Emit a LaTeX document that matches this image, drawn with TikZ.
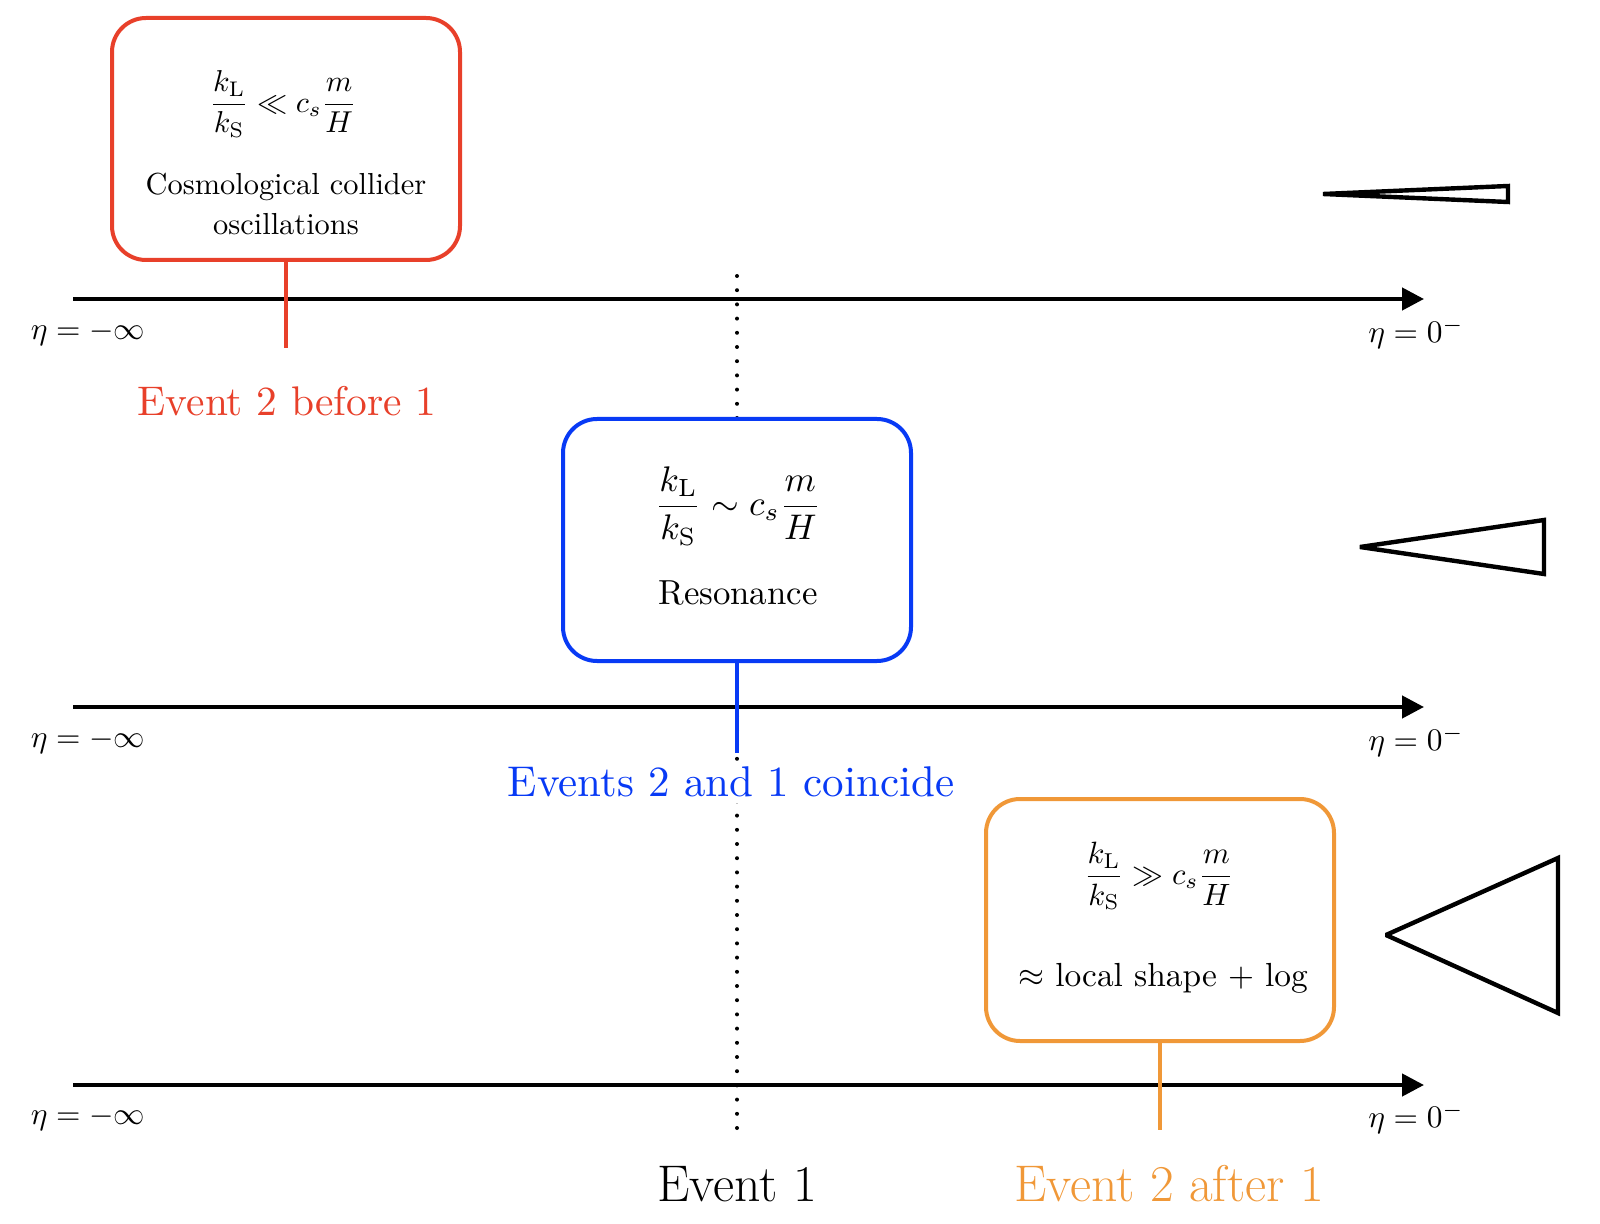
\RequirePackage{fix-cm}
\documentclass[tikz,border=0pt]{standalone}
\usepackage{amsmath}
\usetikzlibrary{arrows.meta}
\definecolor{cred}{RGB}{232,64,42}
\definecolor{cblue}{RGB}{8,58,245}
\definecolor{corange}{RGB}{240,152,56}
\newcommand{\SBX}[2]{\scalebox{#1}{#2}}
\begin{document}
\begin{tikzpicture}[x=0.5pt,y=-0.5pt,
  axis/.style={line width=2.2pt,-{Triangle[length=11pt,width=11pt]}},
  etalbl/.style={inner sep=0pt},
  evbox/.style={draw, rounded corners=17pt, line width=2pt, fill=white,
    minimum width=174pt, minimum height=121pt, inner sep=0pt},
  conn/.style={line width=2pt},
  evlbl/.style={fill=white, inner sep=3pt},
  biglbl/.style={font=\fontsize{25.8}{30}\selectfont, inner sep=3pt},
  tri/.style={line width=2.2pt, line join=miter, miter limit=2},
  dotline/.style={line width=2pt, line cap=round, dash pattern=on 0pt off 7.1pt}
]
\useasboundingbox (0,0) rectangle (1600,1224);

% event 1 dotted line
\coordinate (dtop) at (737,276);
\coordinate (dbot) at (737,1135);
\draw[dotline] (dtop) -- (dbot);

% axes
\coordinate (a1s) at (73,299); \coordinate (a1e) at (1424,299);
\coordinate (a2s) at (73,707); \coordinate (a2e) at (1424,707);
\coordinate (a3s) at (73,1085); \coordinate (a3e) at (1424,1085);
\draw[axis] (a1s) -- (a1e);
\draw[axis] (a2s) -- (a2e);
\draw[axis] (a3s) -- (a3e);

\node[etalbl] (l1a) at (88,333) {\SBX{1.57}{$\eta = -\infty$}};
\node[etalbl] (l1b) at (1416,333) {\SBX{1.57}{$\eta = 0^-$}};
\node[etalbl] (l2a) at (88,741) {\SBX{1.57}{$\eta = -\infty$}};
\node[etalbl] (l2b) at (1416,741) {\SBX{1.57}{$\eta = 0^-$}};
\node[etalbl] (l3a) at (88,1118) {\SBX{1.57}{$\eta = -\infty$}};
\node[etalbl] (l3b) at (1416,1118) {\SBX{1.57}{$\eta = 0^-$}};

% red box
\node[evbox, draw=cred] (rbox) at (286,139) {};
\coordinate (rend) at (286,348);
\draw[conn, cred] (rbox.south) -- (rend);
\node (rform) at (283,104)
  {\SBX{1.51}{$\displaystyle\frac{k_{\mathrm{L}}}{k_{\mathrm{S}}} \ll c_s\frac{m}{H}$}};
\node (rtext) at (286,207)
  {\SBX{1.52}{\begin{tabular}{@{}c@{}}Cosmological collider\\[1.2pt]oscillations\end{tabular}}};
\node[evlbl, text=cred] (rlbl) at (287,401) {\SBX{2.07}{Event 2 before 1}};

% blue box
\node[evbox, draw=cblue] (bbox) at (737,540) {};
\coordinate (bend) at (737,753);
\draw[conn, cblue] (bbox.south) -- (bend);
\node (bform) at (738,506)
  {\SBX{1.78}{$\displaystyle\frac{k_{\mathrm{L}}}{k_{\mathrm{S}}} \sim c_s\frac{m}{H}$}};
\node (btext) at (738,593) {\SBX{1.74}{Resonance}};
\node[evlbl, text=cblue] (blbl) at (731,782) {\SBX{2.15}{Events 2 and 1 coincide}};

% orange box
\node[evbox, draw=corange] (obox) at (1160,920) {};
\coordinate (oend) at (1160,1130);
\draw[conn, corange] (obox.south) -- (oend);
\node (oform) at (1159,876)
  {\SBX{1.54}{$\displaystyle\frac{k_{\mathrm{L}}}{k_{\mathrm{S}}} \gg c_s\frac{m}{H}$}};
\node (otext) at (1163,978) {\SBX{1.67}{$\approx$ local shape $+$ log}};
\node[biglbl, text=corange] (olbl) at (1169,1184) {Event 2 after 1};

\node[biglbl] (e1lbl) at (737,1184) {Event 1};

% triangles
\draw[tri] (1323,194) -- (1508,186) -- (1508,202) -- cycle;
\draw[tri] (1360,547) -- (1544,520) -- (1544,574) -- cycle;
\draw[tri] (1386,935) -- (1558,858) -- (1558,1013) -- cycle;
\end{tikzpicture}
\end{document}
